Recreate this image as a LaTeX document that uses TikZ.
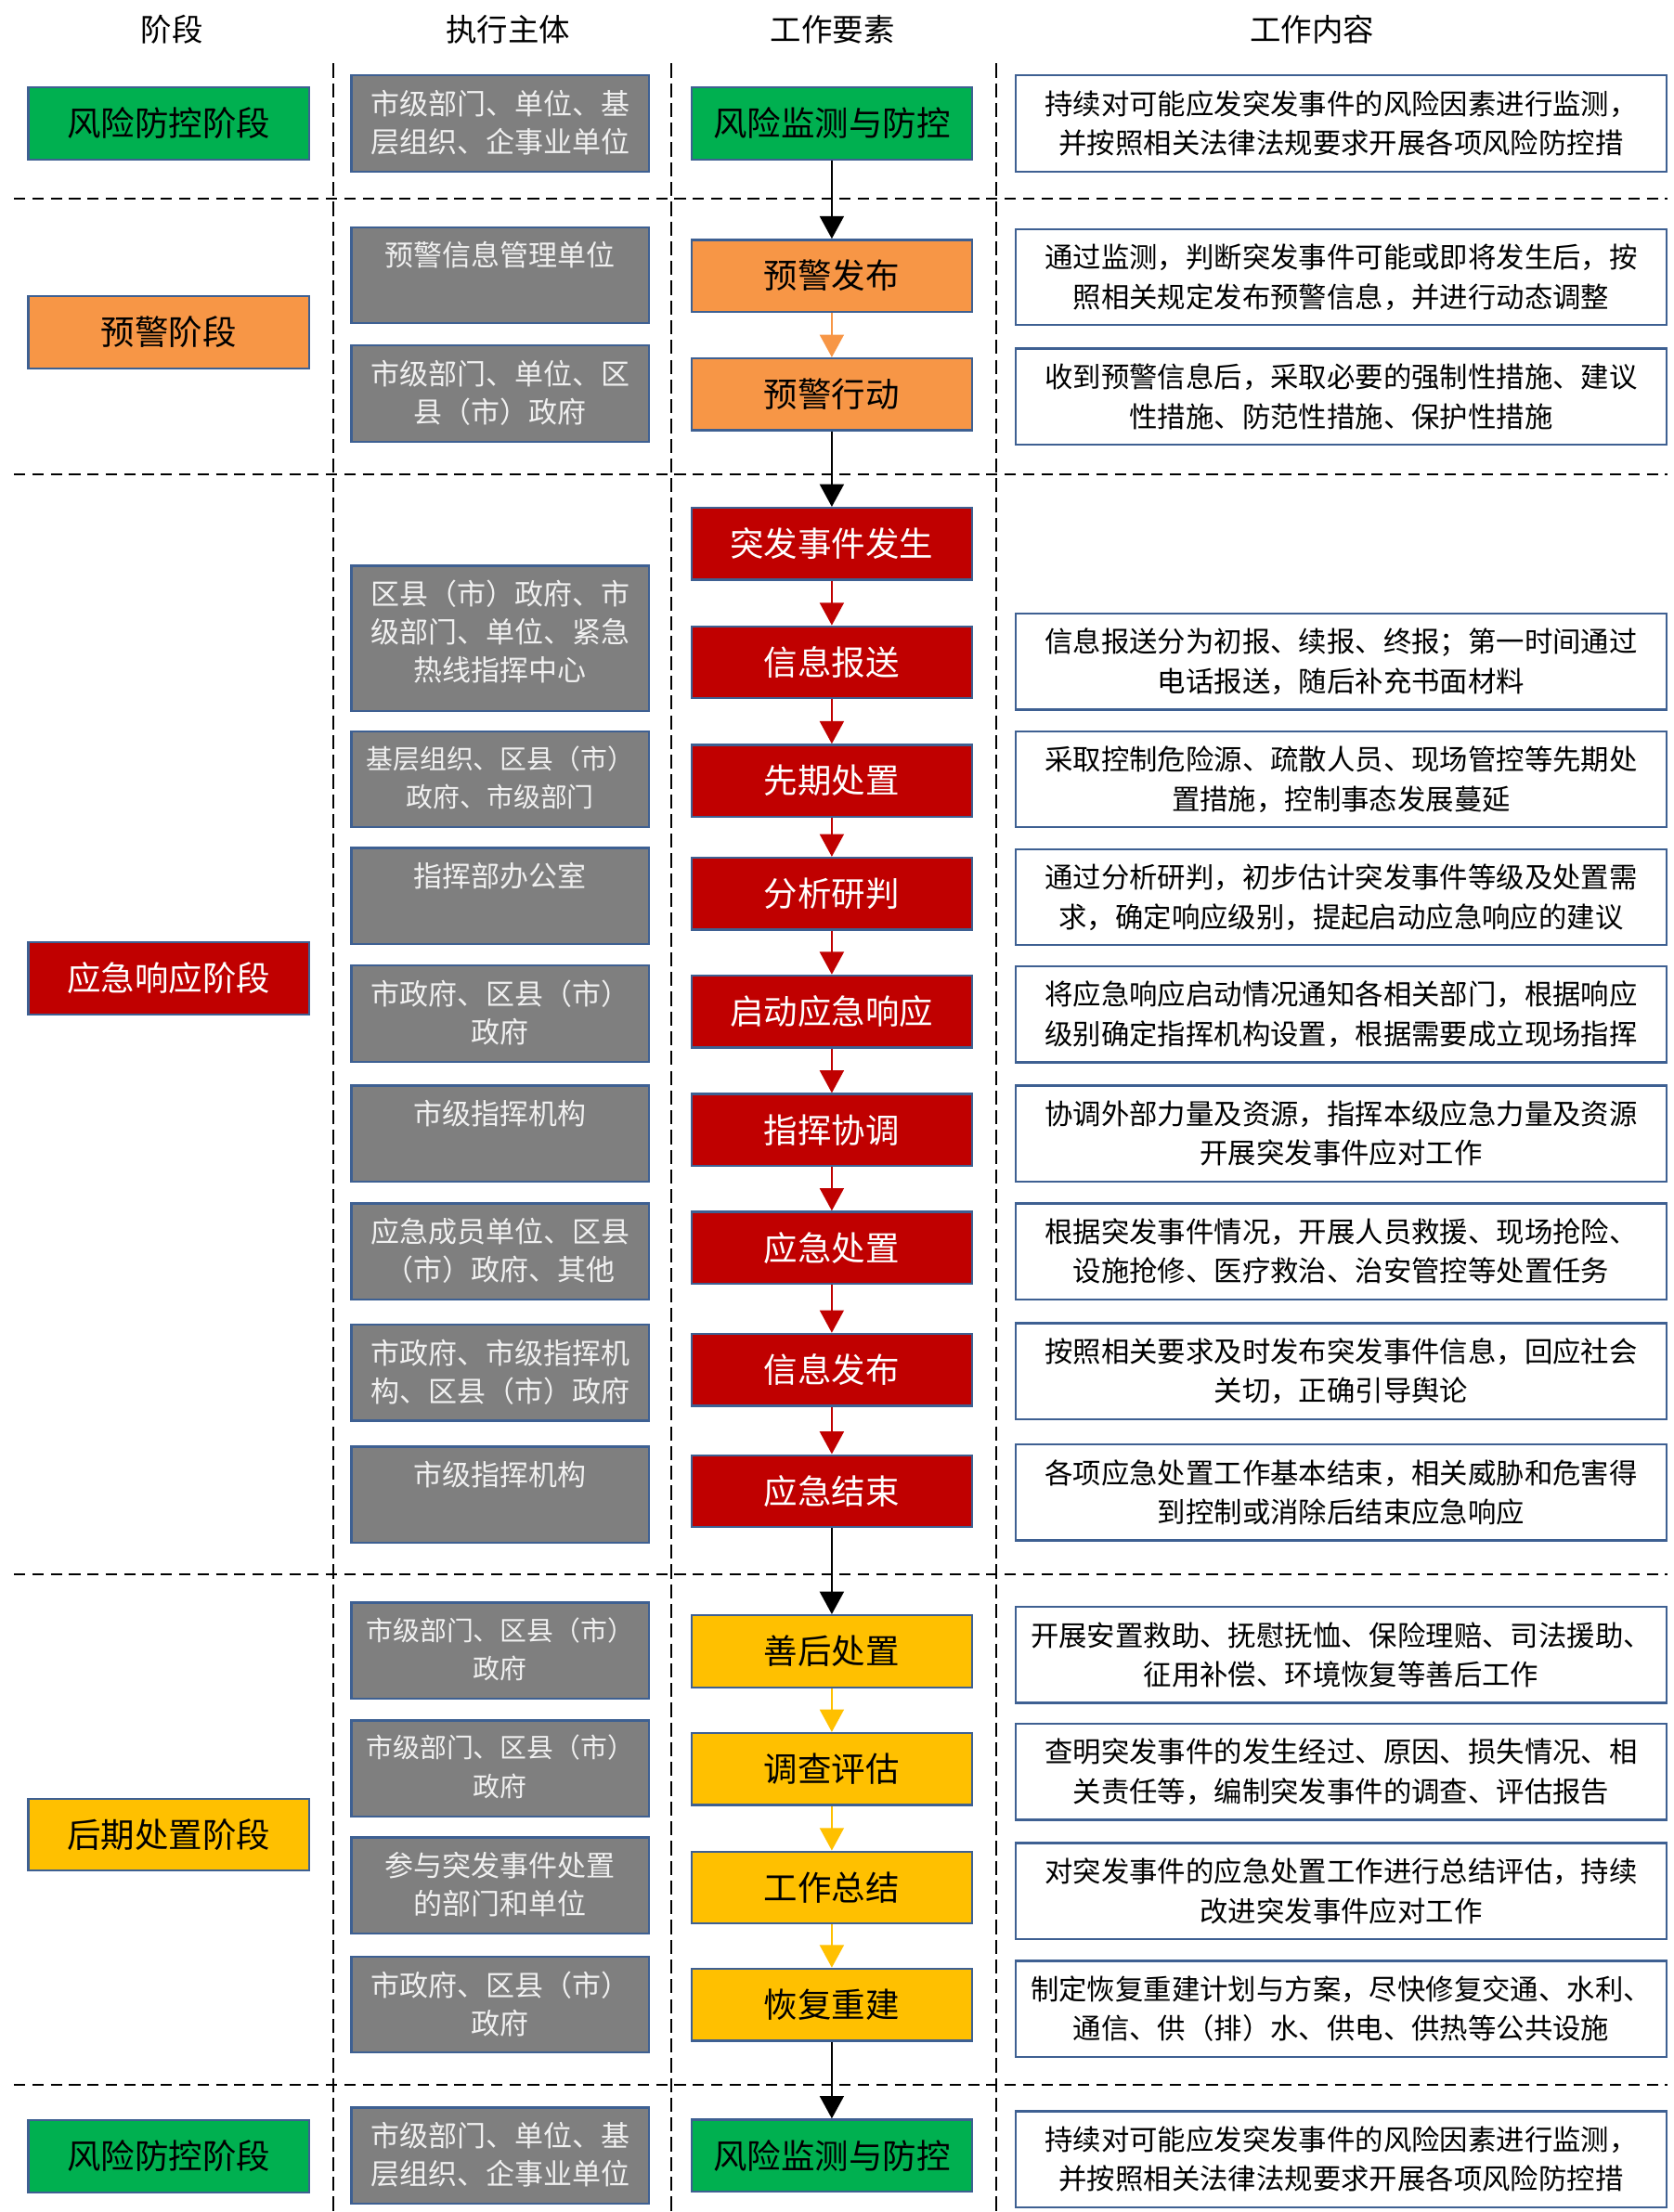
\documentclass[tikz,border=0pt]{standalone}
\usepackage{fontspec}
\setmainfont{Noto Sans CJK SC}
\usetikzlibrary{arrows.meta}
\definecolor{lvse}{RGB}{0,176,80}
\definecolor{chengse}{RGB}{247,150,70}
\definecolor{hongse}{RGB}{192,0,0}
\definecolor{huangse}{RGB}{255,192,0}
\definecolor{huise}{RGB}{127,127,127}
\definecolor{biankuang}{RGB}{62,96,146}
\tikzset{
	kuang/.style 2 args={rectangle,draw=biankuang,line width=1.5pt,fill=#1,text=#2,minimum width=199pt,minimum height=51pt,inner sep=0pt,font=\fontsize{24}{28}\selectfont},
	zhuti/.style={rectangle,draw=biankuang,line width=1.5pt,fill=huise,minimum width=211pt,minimum height=68pt,inner sep=0pt},
	zhutiwen/.style={anchor=north,inner sep=0pt,yshift=-11pt,align=center,text=white!94!black,font=\fontsize{20.4}{27}\selectfont},
	zhaiwen/.style={zhutiwen,font=\fontsize{19}{27}\selectfont},
	neirong/.style={rectangle,draw=biankuang,line width=1.5pt,fill=white,minimum width=461pt,minimum height=68pt,inner sep=0pt,align=center,font=\fontsize{20}{28}\selectfont},
	biaoti/.style={font=\fontsize{22}{26}\selectfont},
	jiantou/.style={draw=#1,line width=1.6pt,-{Triangle[width=17pt,length=16pt]}},
	hxu/.style={dash pattern=on 8pt off 5pt,line width=1.5pt},
	sxu/.style={dash pattern=on 10pt off 4pt,line width=1.3pt}
}
\begin{document}
\begin{tikzpicture}[x=1pt,y=-1pt]
	\useasboundingbox (0,0) rectangle (1186,1568);

	% headers
	\node [biaoti] (h1) at (122,21) {阶段};
	\node [biaoti] (h2) at (360,21) {执行主体};
	\node [biaoti] (h3) at (590,21) {工作要素};
	\node [biaoti] (h4) at (930,21) {工作内容};

	% dashed grid
	\draw [sxu] (236,45) -- (236,1568);
	\draw [sxu] (476,45) -- (476,1568);
	\draw [sxu] (706,45) -- (706,1568);
	\draw [hxu] (10,141) -- (1182,141);
	\draw [hxu] (10,336) -- (1182,336);
	\draw [hxu] (10,1116) -- (1182,1116);
	\draw [hxu] (10,1478) -- (1182,1478);

	% stages
	\node [kuang={lvse}{black}] (s1) at (119.5,87.5) {风险防控阶段};
	\node [kuang={chengse}{black}] (s2) at (119.5,235.5) {预警阶段};
	\node [kuang={hongse}{white}] (s3) at (119.5,693.5) {应急响应阶段};
	\node [kuang={huangse}{black}] (s4) at (119.5,1300.5) {后期处置阶段};
	\node [kuang={lvse}{black}] (s5) at (119.5,1528.5) {风险防控阶段};

	% executors
	\node [zhuti] (z1) at (354.5,87.5) {};
	\node [zhutiwen] (zw1) at (z1.north) {市级部门、单位、基\\层组织、企事业单位};
	\node [zhuti] (z2) at (354.5,195) {};
	\node [zhutiwen] (zw2) at (z2.north) {预警信息管理单位};
	\node [zhuti] (z3) at (354.5,279) {};
	\node [zhutiwen] (zw3) at (z3.north) {市级部门、单位、区\\县（市）政府};
	\node [zhuti,minimum height=103pt] (z4) at (354.5,452.5) {};
	\node [zhutiwen] (zw4) at (z4.north) {区县（市）政府、市\\级部门、单位、紧急\\热线指挥中心};
	\node [zhuti] (z5) at (354.5,552.5) {};
	\node [zhaiwen] (zw5) at (z5.north) {基层组织、区县（市）\\政府、市级部门};
	\node [zhuti] (z6) at (354.5,635) {};
	\node [zhutiwen] (zw6) at (z6.north) {指挥部办公室};
	\node [zhuti] (z7) at (354.5,718.5) {};
	\node [zhutiwen] (zw7) at (z7.north) {市政府、区县（市）\\政府};
	\node [zhuti] (z8) at (354.5,803.5) {};
	\node [zhutiwen] (zw8) at (z8.north) {市级指挥机构};
	\node [zhuti] (z9) at (354.5,887) {};
	\node [zhutiwen] (zw9) at (z9.north) {应急成员单位、区县\\（市）政府、其他};
	\node [zhuti] (z10) at (354.5,973) {};
	\node [zhutiwen] (zw10) at (z10.north) {市政府、市级指挥机\\构、区县（市）政府};
	\node [zhuti] (z11) at (354.5,1059.5) {};
	\node [zhutiwen] (zw11) at (z11.north) {市级指挥机构};
	\node [zhuti] (z12) at (354.5,1170) {};
	\node [zhaiwen] (zw12) at (z12.north) {市级部门、区县（市）\\政府};
	\node [zhuti] (z13) at (354.5,1253.5) {};
	\node [zhaiwen] (zw13) at (z13.north) {市级部门、区县（市）\\政府};
	\node [zhuti] (z14) at (354.5,1336.5) {};
	\node [zhutiwen] (zw14) at (z14.north) {参与突发事件处置\\的部门和单位};
	\node [zhuti] (z15) at (354.5,1421) {};
	\node [zhutiwen] (zw15) at (z15.north) {市政府、区县（市）\\政府};
	\node [zhuti] (z16) at (354.5,1528) {};
	\node [zhutiwen] (zw16) at (z16.north) {市级部门、单位、基\\层组织、企事业单位};

	% work elements
	\node [kuang={lvse}{black}] (y1) at (589.5,87.5) {风险监测与防控};
	\node [kuang={chengse}{black}] (y2) at (589.5,195.5) {预警发布};
	\node [kuang={chengse}{black}] (y3) at (589.5,279.5) {预警行动};
	\node [kuang={hongse}{white}] (y4) at (589.5,385.5) {突发事件发生};
	\node [kuang={hongse}{white}] (y5) at (589.5,469.5) {信息报送};
	\node [kuang={hongse}{white}] (y6) at (589.5,553.5) {先期处置};
	\node [kuang={hongse}{white}] (y7) at (589.5,633.5) {分析研判};
	\node [kuang={hongse}{white}] (y8) at (589.5,717) {启动应急响应};
	\node [kuang={hongse}{white}] (y9) at (589.5,801) {指挥协调};
	\node [kuang={hongse}{white}] (y10) at (589.5,884.5) {应急处置};
	\node [kuang={hongse}{white}] (y11) at (589.5,971) {信息发布};
	\node [kuang={hongse}{white}] (y12) at (589.5,1057) {应急结束};
	\node [kuang={huangse}{black}] (y13) at (589.5,1170.5) {善后处置};
	\node [kuang={huangse}{black}] (y14) at (589.5,1254) {调查评估};
	\node [kuang={huangse}{black}] (y15) at (589.5,1338) {工作总结};
	\node [kuang={huangse}{black}] (y16) at (589.5,1421) {恢复重建};
	\node [kuang={lvse}{black}] (y17) at (589.5,1528) {风险监测与防控};

	% work content
	\node [neirong] (n1) at (950.5,87.5) {持续对可能应发突发事件的风险因素进行监测，\\并按照相关法律法规要求开展各项风险防控措};
	\node [neirong] (n2) at (950.5,196.5) {通过监测，判断突发事件可能或即将发生后，按\\照相关规定发布预警信息，并进行动态调整};
	\node [neirong] (n3) at (950.5,281) {收到预警信息后，采取必要的强制性措施、建议\\性措施、防范性措施、保护性措施};
	\node [neirong] (n4) at (950.5,469) {信息报送分为初报、续报、终报；第一时间通过\\电话报送，随后补充书面材料};
	\node [neirong] (n5) at (950.5,552.5) {采取控制危险源、疏散人员、现场管控等先期处\\置措施，控制事态发展蔓延};
	\node [neirong] (n6) at (950.5,636) {通过分析研判，初步估计突发事件等级及处置需\\求，确定响应级别，提起启动应急响应的建议};
	\node [neirong] (n7) at (950.5,719) {将应急响应启动情况通知各相关部门，根据响应\\级别确定指挥机构设置，根据需要成立现场指挥};
	\node [neirong] (n8) at (950.5,803.5) {协调外部力量及资源，指挥本级应急力量及资源\\开展突发事件应对工作};
	\node [neirong] (n9) at (950.5,887) {根据突发事件情况，开展人员救援、现场抢险、\\设施抢修、医疗救治、治安管控等处置任务};
	\node [neirong] (n10) at (950.5,972) {按照相关要求及时发布突发事件信息，回应社会\\关切，正确引导舆论};
	\node [neirong] (n11) at (950.5,1058) {各项应急处置工作基本结束，相关威胁和危害得\\到控制或消除后结束应急响应};
	\node [neirong] (n12) at (950.5,1173) {开展安置救助、抚慰抚恤、保险理赔、司法援助、\\征用补偿、环境恢复等善后工作};
	\node [neirong] (n13) at (950.5,1256) {查明突发事件的发生经过、原因、损失情况、相\\关责任等，编制突发事件的调查、评估报告};
	\node [neirong] (n14) at (950.5,1340.5) {对突发事件的应急处置工作进行总结评估，持续\\改进突发事件应对工作};
	\node [neirong] (n15) at (950.5,1424) {制定恢复重建计划与方案，尽快修复交通、水利、\\通信、供（排）水、供电、供热等公共设施};
	\node [neirong] (n16) at (950.5,1530.5) {持续对可能应发突发事件的风险因素进行监测，\\并按照相关法律法规要求开展各项风险防控措};

	% arrows
	\draw [jiantou=black] (y1) -- (y2);
	\draw [jiantou=chengse] (y2) -- (y3);
	\draw [jiantou=black] (y3) -- (y4);
	\draw [jiantou=hongse] (y4) -- (y5);
	\draw [jiantou=hongse] (y5) -- (y6);
	\draw [jiantou=hongse] (y6) -- (y7);
	\draw [jiantou=hongse] (y7) -- (y8);
	\draw [jiantou=hongse] (y8) -- (y9);
	\draw [jiantou=hongse] (y9) -- (y10);
	\draw [jiantou=hongse] (y10) -- (y11);
	\draw [jiantou=hongse] (y11) -- (y12);
	\draw [jiantou=black] (y12) -- (y13);
	\draw [jiantou=huangse] (y13) -- (y14);
	\draw [jiantou=huangse] (y14) -- (y15);
	\draw [jiantou=huangse] (y15) -- (y16);
	\draw [jiantou=black] (y16) -- (y17);
\end{tikzpicture}
\end{document}
